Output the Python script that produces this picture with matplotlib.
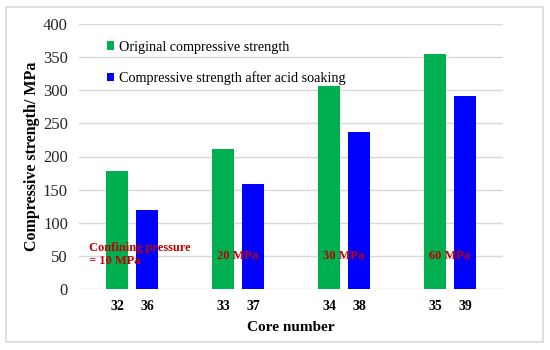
import matplotlib.pyplot as plt
from matplotlib.patches import Rectangle
import numpy as np

plt.rcParams['font.family'] = ['Liberation Serif', 'DejaVu Serif']

pressures = ["Confining pressure\n= 10 MPa", "20 MPa", "30 MPa", "60 MPa"]
orig_cores = ["32", "33", "34", "35"]
acid_cores = ["36", "37", "38", "39"]
orig_strength = [178, 211, 306, 355]
acid_strength = [119, 158, 237, 291]

x = np.arange(len(orig_cores))
off = 0.142
w = 0.215

fig = plt.figure(figsize=(5.5, 3.5), dpi=100)
fig.patches.append(Rectangle((6 / 550, 8 / 350), 537 / 550, 335 / 350, transform=fig.transFigure,
                             fill=False, edgecolor='#D9D9D9', linewidth=1.2))
ax = fig.add_axes([79 / 550, 1 - 289 / 350, 424 / 550, 265 / 350])

ax.bar(x - off, orig_strength, w, color='#00B050', label='Original compressive strength', zorder=3)
ax.bar(x + off, acid_strength, w, color='#0000FF', label='Compressive strength after acid soaking', zorder=3)

ax.set_xlim(-0.5, len(x) - 0.5)
ax.set_ylim(0, 400)
ax.set_yticks(np.arange(0, 401, 50))
ax.set_xticks(np.concatenate([x - off, x + off]))
ax.set_xticklabels(orig_cores + acid_cores, fontweight='bold', fontsize=10)
ax.tick_params(axis='x', length=0, pad=8)
ax.tick_params(axis='y', length=0, pad=8, labelsize=12, colors='#262626')
ax.grid(axis='y', color='#D9D9D9', linewidth=1, zorder=0)
for s in ax.spines.values():
    s.set_visible(False)

ax.set_ylabel('Compressive strength/ MPa', fontweight='bold', fontsize=11.5, labelpad=2)
ax.set_xlabel('Core number', fontweight='bold', fontsize=11, labelpad=6)

for i, p in enumerate(pressures):
    if i == 0:
        ax.text(i - off - 0.26, 52, p, color='#C00000', fontweight='bold',
                fontsize=9, ha='left', va='center', zorder=4, linespacing=1.1)
    else:
        ax.text(i - off - 0.06, 50, p, color='#C00000', fontweight='bold',
                fontsize=9, ha='left', va='center', zorder=4)

ax.legend(loc='upper left', bbox_to_anchor=(0.035, 0.985), frameon=False,
          fontsize=10.2, handlelength=0.55, handleheight=0.55, handletextpad=0.3,
          labelspacing=1.25)

fig.savefig('out.png', dpi=100)
